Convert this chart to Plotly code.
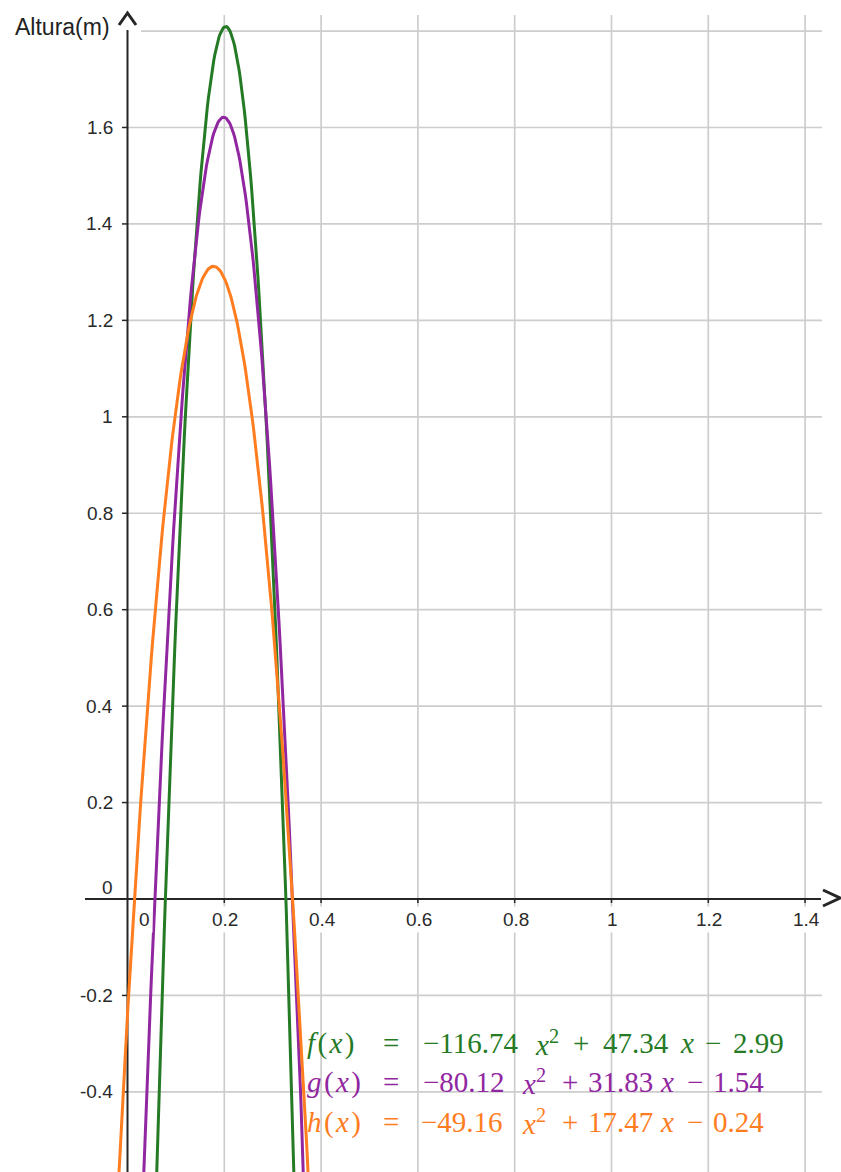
import numpy as np
import plotly.graph_objects as go

# ---- data ----
func_names = ["f", "g", "h"]
coef_a = [-116.74, -80.12, -49.16]
coef_b = [47.34, 31.83, 17.47]
coef_c = [-2.99, -1.54, -0.24]
func_colors = ["#257a25", "#9126a1", "#ff7d1e"]
formula_a_texts = ["\u2212116.74", "\u221280.12", "\u221249.16"]
formula_b_texts = ["47.34", "31.83", "17.47"]
formula_c_texts = ["2.99", "1.54", "0.24"]

x_tick_vals = [0, 0.2, 0.4, 0.6, 0.8, 1.0, 1.2, 1.4]
x_tick_text = ["0", "0.2", "0.4", "0.6", "0.8", "1", "1.2", "1.4"]
y_tick_vals = [-0.4, -0.2, 0, 0.2, 0.4, 0.6, 0.8, 1.0, 1.2, 1.4, 1.6]
y_tick_text = ["-0.4", "-0.2", "0", "0.2", "0.4", "0.6", "0.8", "1", "1.2", "1.4", "1.6"]
x_grid_vals = [0.2, 0.4, 0.6, 0.8, 1.0, 1.2, 1.4]
y_grid_vals = [-0.4, -0.2, 0.2, 0.4, 0.6, 0.8, 1.0, 1.2, 1.4, 1.6, 1.8]

x_axis_title = "Tempo(s)"
y_axis_title = "Altura(m)"

# ---- geometry helpers (pixel -> data) ----
W, H = 841, 1172
XPX0, SX = 127.5, 484.0
YPX0, SY = 899.0, 482.2


def dx(px):
    return (px - XPX0) / SX


def dy(py):
    return (YPX0 - py) / SY


fig = go.Figure()

# curves
xs = np.linspace(dx(0), dx(W), 800)
for name, a, b, c, col in zip(func_names, coef_a, coef_b, coef_c, func_colors):
    ys = a * xs ** 2 + b * xs + c
    fig.add_trace(go.Scatter(x=xs, y=ys, mode="lines", name=name,
                             line=dict(color=col, width=3), hoverinfo="skip"))

shapes = []
grid_col = "#cdcdcd"
for xv in x_grid_vals:
    shapes.append(dict(type="line", x0=xv, x1=xv, y0=dy(H), y1=dy(15),
                       line=dict(color=grid_col, width=1.7), layer="below"))
for yv in y_grid_vals:
    x_start = dx(141) if yv > 1.7 else 0
    shapes.append(dict(type="line", x0=x_start, x1=dx(822), y0=yv, y1=yv,
                       line=dict(color=grid_col, width=1.7), layer="below"))

axis_col = "#262626"
# axes
shapes.append(dict(type="line", x0=0, x1=0, y0=dy(H), y1=dy(30),
                   line=dict(color=axis_col, width=2), layer="below"))
shapes.append(dict(type="line", x0=dx(85), x1=dx(821), y0=0, y1=0,
                   line=dict(color=axis_col, width=2), layer="below"))
# tick marks
for yv in y_tick_vals:
    if yv == 0:
        continue
    shapes.append(dict(type="line", x0=dx(122), x1=0, y0=yv, y1=yv,
                       line=dict(color=axis_col, width=1.5), layer="below"))
for xv in x_tick_vals:
    if xv == 0:
        continue
    shapes.append(dict(type="line", x0=xv, x1=xv, y0=0, y1=dy(903),
                       line=dict(color=axis_col, width=1.5), layer="below"))
# arrows
up = "M {},{} L {},{} L {},{}".format(dx(119), dy(25), dx(127.5), dy(13), dx(136), dy(25))
right = "M {},{} L {},{} L {},{}".format(dx(823), dy(890), dx(840), dy(898), dx(823), dy(906))
shapes.append(dict(type="path", path=up, line=dict(color=axis_col, width=3)))
shapes.append(dict(type="path", path=right, line=dict(color=axis_col, width=3)))

annotations = []
lab_font = dict(family="Liberation Sans, Arial, sans-serif", size=19, color="#2a2a2a")
for xv, t in zip(x_tick_vals, x_tick_text):
    annotations.append(dict(x=xv, y=0, text=t, showarrow=False, xanchor="center",
                            yanchor="middle", yshift=-20, xshift=16.5 if xv == 0 else 1,
                            font=lab_font, bgcolor="white", borderpad=2))
for yv, t in zip(y_tick_vals, y_tick_text):
    annotations.append(dict(x=0, y=yv, text=t, showarrow=False, xanchor="right",
                            yanchor="middle", xshift=-13, yshift=12 if yv == 0 else 0,
                            font=lab_font))
title_font = dict(family="Liberation Sans, Arial, sans-serif", size=23, color="#222222")
annotations.append(dict(x=dx(13), y=dy(27), text=y_axis_title, showarrow=False,
                        xanchor="left", yanchor="middle", font=title_font))
annotations.append(dict(x=dx(842), y=dy(957), text=x_axis_title, showarrow=False,
                        xanchor="right", yanchor="middle", font=title_font))

# formulas: tokens placed at measured pixel positions
form_y_px = [1043, 1082, 1122]
token_x_px = [
    [305, 381, 421, 533, 571, 601, 678, 703, 731],
    [305, 381, 421, 520, 560, 586, 658, 685, 711],
    [305, 381, 419, 520, 560, 586, 658, 685, 711],
]
hs = "\u200a"
form_font_base = dict(family="Liberation Serif, Times New Roman, serif", size=29)
for name, ta, tb, tc, col, ypx, xpos in zip(func_names, formula_a_texts, formula_b_texts,
                                           formula_c_texts, func_colors, form_y_px,
                                           token_x_px):
    tokens = [
        "<i>{}</i>{}({}<i>x</i>{})".format(name, hs, hs, hs),
        "=",
        ta,
        "<i>x</i><sup>2</sup>",
        "+",
        tb,
        "<i>x</i>",
        "\u2212",
        tc,
    ]
    for tok, xp in zip(tokens, xpos):
        annotations.append(dict(x=dx(xp), y=dy(ypx), text=tok, showarrow=False,
                                xanchor="left", yanchor="middle",
                                font=dict(color=col, **form_font_base)))

fig.update_layout(
    width=W, height=H,
    margin=dict(l=0, r=0, t=0, b=0, pad=0),
    paper_bgcolor="white", plot_bgcolor="white",
    showlegend=False,
    xaxis=dict(range=[dx(0), dx(W)], visible=False, showgrid=False, zeroline=False),
    yaxis=dict(range=[dy(H), dy(0)], visible=False, showgrid=False, zeroline=False),
    shapes=shapes, annotations=annotations,
)

fig.write_html("out.html", config={"displayModeBar": False},
               post_script="document.body.style.margin='0px';document.body.style.overflow='hidden';")
